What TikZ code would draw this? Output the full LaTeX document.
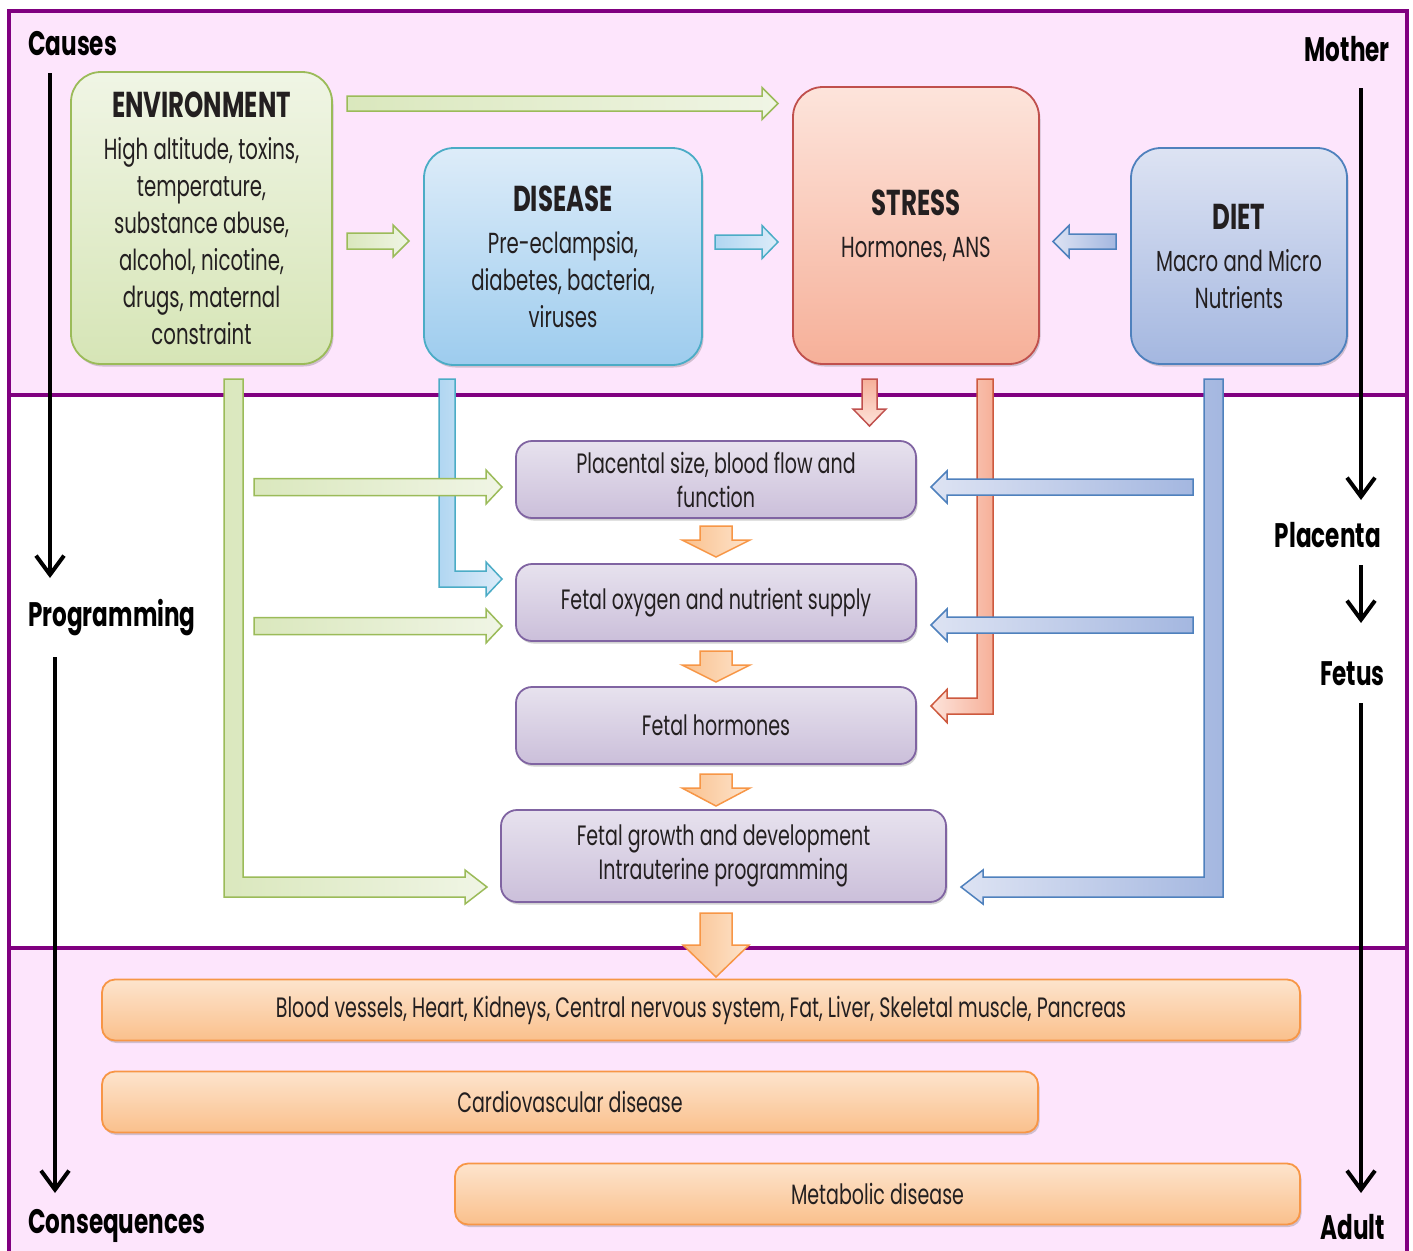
\documentclass[tikz,border=0pt]{standalone}
\usepackage{fontspec}
\setmainfont{Poppins}[FakeStretch=0.68]
\usetikzlibrary{arrows.meta,shadows}
\definecolor{pinkbg}{RGB}{253,229,252}
\definecolor{frame}{RGB}{128,0,128}
\definecolor{txt}{RGB}{35,31,32}
\definecolor{grD}{RGB}{155,187,89}
\definecolor{grT}{RGB}{240,245,229}
\definecolor{grBo}{RGB}{214,229,182}
\definecolor{blD}{RGB}{75,172,198}
\definecolor{blT}{RGB}{221,236,249}
\definecolor{blBo}{RGB}{157,204,238}
\definecolor{rdD}{RGB}{192,80,77}
\definecolor{rdT}{RGB}{253,228,219}
\definecolor{rdBo}{RGB}{246,176,153}
\definecolor{lvD}{RGB}{79,129,189}
\definecolor{lvT}{RGB}{221,227,243}
\definecolor{lvBo}{RGB}{164,183,224}
\definecolor{puD}{RGB}{128,100,162}
\definecolor{puT}{RGB}{231,226,238}
\definecolor{puBo}{RGB}{203,191,218}
\definecolor{orD}{RGB}{247,150,70}
\definecolor{orT}{RGB}{253,228,205}
\definecolor{orBo}{RGB}{250,192,140}
% right/left straight block arrow: style, x0, xh, xt, c, s, h
\newcommand\blkH[7]{\draw[#1] (#2,#5-#6) -- (#3,#5-#6) -- (#3,#5-#7) -- (#4,#5) -- (#3,#5+#7) -- (#3,#5+#6) -- (#2,#5+#6) -- cycle;}
% down block arrow: style, cx, y0, yh, yt, s, h
\newcommand\blkV[7]{\draw[#1] (#2-#6,#3) -- (#2-#6,#4) -- (#2-#7,#4) -- (#2,#5) -- (#2+#7,#4) -- (#2+#6,#4) -- (#2+#6,#3) -- cycle;}
% L-shaped block arrow: style, outer x, inner x, ytop, c, s, xh, xt, h
\newcommand\blkL[9]{\draw[#1] (#2,#4) -- (#3,#4) -- (#3,#5-#6) -- (#7,#5-#6) -- (#7,#5-#9) -- (#8,#5) -- (#7,#5+#9) -- (#7,#5+#6) -- (#2,#5+#6) -- cycle;}
\newcommand\hdrfont{\bfseries\fontsize{36}{37}\selectfont}
\begin{document}
\begin{tikzpicture}[x=1pt,y=-1pt,
  shad/.style={drop shadow={shadow xshift=1.5pt,shadow yshift=-2.5pt,opacity=0.25,fill=black!70}},
  bigbox/.style={shad,rounded corners=30pt,line width=1.8pt,align=center,inner sep=0pt,text=txt,
     font=\fontsize{29}{37}\selectfont},
  envbox/.style={bigbox,draw=grD,top color=grT,bottom color=grBo},
  disbox/.style={bigbox,draw=blD,top color=blT,bottom color=blBo},
  strbox/.style={bigbox,draw=rdD,top color=rdT,bottom color=rdBo},
  dietbox/.style={bigbox,draw=lvD,top color=lvT,bottom color=lvBo},
  midbox/.style={shad,rounded corners=16pt,line width=1.8pt,draw=puD,top color=puT,bottom color=puBo,
     align=center,inner sep=0pt,text=txt,font=\fontsize{28}{34}\selectfont},
  outbox/.style={shad,rounded corners=13pt,line width=1.8pt,draw=orD,top color=orT,bottom color=orBo,
     align=center,inner sep=0pt,text=txt,font=\fontsize{28}{34}\selectfont},
  side/.style={font=\bfseries\fontsize{34}{40}\selectfont,text=black,inner sep=0pt},
  blackarrow/.style={line width=4pt,black,-{Straight Barb[length=19pt,width=28pt]}},
  greenarr/.style={draw=grD,line width=1.5pt,left color=grBo!90!white,right color=grT},
  bluearr/.style={draw=blD,line width=1.5pt,left color=blBo!80!white,right color=blT},
  lavarr/.style={draw=lvD,line width=1.5pt,left color=lvT,right color=lvBo},
  redarr/.style={draw=rdD!80!orange,line width=1.5pt,left color=rdT,right color=rdBo},
  orarr/.style={draw=orD,line width=1.5pt,left color=orBo,right color=orT},
]
\useasboundingbox (0,0) rectangle (1413,1250);
% backgrounds
\fill[white] (0,0) rectangle (1413,1250);
\fill[pinkbg] (9,11) rectangle (1407,395);
\fill[pinkbg] (9,948) rectangle (1407,1255);
\draw[frame,line width=4pt] (9,1260) -- (9,11) -- (1407,11) -- (1407,1260);
\draw[frame,line width=4pt] (9,395) -- (1407,395);
\draw[frame,line width=4pt] (9,948) -- (1407,948);

% side labels
\node[side,anchor=west] (causes) at (28,44) {Causes};
\node[side,anchor=west] (prog) at (28,618) {Programming};
\node[side,anchor=west] (conseq) at (28,1226) {Consequences};
\node[side,anchor=east] (mother) at (1390,49) {Mother};
\node[side,anchor=east] (placenta) at (1381,535) {Placenta};
\node[side,anchor=east] (fetus) at (1385,674) {Fetus};
\node[side,anchor=east] (adult) at (1385,1227) {Adult};
\coordinate (l1s) at (50,73);   \coordinate (l1e) at (50,578);
\coordinate (l2s) at (55,657);  \coordinate (l2e) at (55,1193);
\coordinate (r1s) at (1361,88); \coordinate (r1e) at (1361,500);
\coordinate (r2s) at (1361,565);\coordinate (r2e) at (1361,623);
\coordinate (r3s) at (1361,703);\coordinate (r3e) at (1361,1193);
\draw[blackarrow] (l1s) -- (l1e);
\draw[blackarrow] (l2s) -- (l2e);
\draw[blackarrow] (r1s) -- (r1e);
\draw[blackarrow] (r2s) -- (r2e);
\draw[blackarrow] (r3s) -- (r3e);

% top boxes
\node[envbox,minimum width=261pt,minimum height=292pt] (env) at (201.5,218)
  {{\hdrfont ENVIRONMENT}\\[5pt]High altitude, toxins,\\temperature,\\substance abuse,\\alcohol, nicotine,\\drugs, maternal\\constraint};
\node[disbox,minimum width=278pt,minimum height=217pt] (disease) at (563,256.5)
  {{\hdrfont DISEASE}\\[5pt]Pre-eclampsia,\\diabetes, bacteria,\\viruses};
\node[strbox,minimum width=246pt,minimum height=277pt] (stress) at (916,225.5)
  {{\hdrfont STRESS}\\[5pt]Hormones, ANS};
\node[dietbox,minimum width=216pt,minimum height=216pt] (diet) at (1239,256)
  {{\hdrfont DIET}\\[5pt]Macro and Micro\\Nutrients};

% top arrows
\blkH{greenarr}{347}{762}{778}{103.5}{7.5}{16}
\blkH{greenarr}{347}{393}{409}{241}{8}{16}
\blkH{bluearr}{715}{762}{778}{242}{7}{16.5}
\blkH{lavarr}{1116}{1069}{1053}{241.5}{7.5}{16}
\blkV{draw=rdD,line width=1.5pt,top color=rdBo,bottom color=rdT}{869.5}{379}{409}{426}{7.5}{16.5}

% middle boxes
\node[midbox,minimum width=400pt,minimum height=77pt] (plac) at (716,479.5)
  {Placental size, blood flow and\\function};
\node[midbox,minimum width=400pt,minimum height=77pt] (oxy) at (716,602.5)
  {Fetal oxygen and nutrient supply};
\node[midbox,minimum width=400pt,minimum height=77pt] (horm) at (716,725.5)
  {Fetal hormones};
\node[midbox,minimum width=445pt,minimum height=92pt] (growth) at (723.5,856)
  {Fetal growth and development\\Intrauterine programming};

% L-shaped arrows (vertical bars first)
\blkL{greenarr}{224}{243}{379}{887}{10}{465}{487}{17}
\blkL{bluearr}{439}{455}{379}{579}{8}{486}{502}{17}
\blkL{redarr}{993}{977}{379}{706}{8}{947}{931}{16.5}
\blkL{lavarr}{1223}{1204}{379}{887}{10}{983}{961}{17}

% horizontal arrows over bars
\blkH{greenarr}{254}{486}{502}{487}{8.5}{17}
\blkH{greenarr}{254}{486}{502}{626}{8.5}{17}
\blkH{lavarr}{1193}{947}{931}{487}{8}{16}
\blkH{lavarr}{1193}{947}{931}{625}{8}{16}

% orange down arrows
\blkV{orarr}{716}{526}{540}{557}{16}{34}
\blkV{orarr}{716}{651}{665}{682}{16}{34}
\blkV{orarr}{716}{774}{788}{806}{16}{34}
\blkV{orarr}{716}{913}{945}{977}{16}{33}

% bottom boxes
\node[outbox,minimum width=1198pt,minimum height=61pt] (organs) at (701,1010)
  {Blood vessels, Heart, Kidneys, Central nervous system, Fat, Liver, Skeletal muscle, Pancreas};
\node[outbox,minimum width=936pt,minimum height=61pt] (cvd) at (570,1102)
  {Cardiovascular disease};
\node[outbox,minimum width=845pt,minimum height=61pt] (met) at (877.5,1194)
  {Metabolic disease};
\end{tikzpicture}
\end{document}
